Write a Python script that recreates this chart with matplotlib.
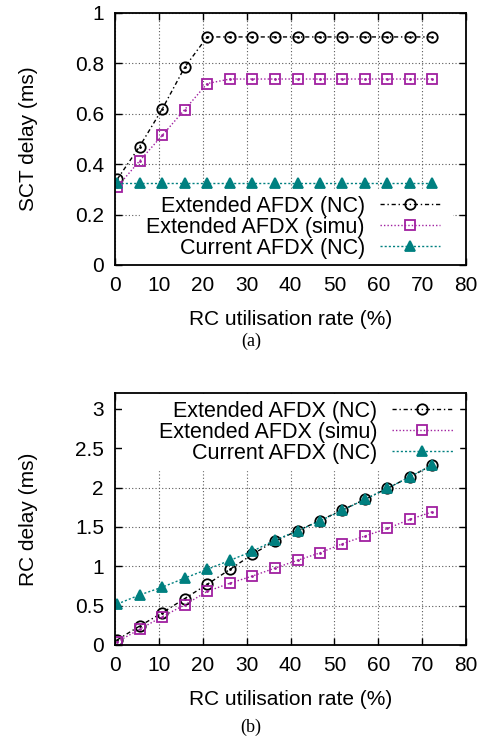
import numpy as np
import matplotlib
matplotlib.use('Agg')
import matplotlib.pyplot as plt
from matplotlib import ticker
from matplotlib.patches import Rectangle

plt.rcParams['font.family'] = ['Liberation Sans', 'DejaVu Sans']
plt.rcParams['font.size'] = 15

# RC utilisation rate (%)
rc_rate = [0.5, 5.6, 10.8, 15.9, 21.0, 26.2, 31.3, 36.4, 41.6, 46.7, 51.8, 57.0, 62.1, 67.2, 72.3]

# (a) SCT delay (ms)
sct_ext_nc = [0.34, 0.47, 0.62, 0.785, 0.905, 0.905, 0.905, 0.905, 0.905, 0.905, 0.905, 0.905, 0.905, 0.905, 0.905]
sct_ext_simu = [0.31, 0.413, 0.515, 0.617, 0.72, 0.738, 0.738, 0.738, 0.738, 0.738, 0.738, 0.738, 0.738, 0.738, 0.738]
sct_cur_nc = [0.326] * 15

# (b) RC delay (ms)
rc_ext_nc = [0.065, 0.24, 0.41, 0.59, 0.77, 0.96, 1.15, 1.32, 1.45, 1.58, 1.715, 1.85, 1.99, 2.135, 2.285]
rc_ext_simu = [0.04, 0.2, 0.36, 0.51, 0.68, 0.785, 0.875, 0.975, 1.075, 1.17, 1.285, 1.385, 1.48, 1.595, 1.69]
rc_cur_nc = [0.52, 0.635, 0.735, 0.85, 0.96, 1.075, 1.19, 1.33, 1.45, 1.575, 1.71, 1.85, 1.99, 2.135, 2.285]

labels = ['Extended AFDX (NC)', 'Extended AFDX (simu)', 'Current AFDX (NC)']
colors = ['black', '#a020a0', '#008080']
markers = ['o', 's', '^']
msizes = [7.5, 6.5, 6.5]
styles = [(0, (3, 2, 1, 2)), (0, (1, 1.5)), (0, (1.5, 1.5))]

fig = plt.figure(figsize=(4.88, 7.38), dpi=100)
W, H = 488, 738
ax1 = fig.add_axes([115 / W, 1 - 265 / H, 351 / W, 252 / H])
ax2 = fig.add_axes([115 / W, 1 - 645 / H, 351 / W, 252 / H])


def draw(ax, series):
    for ys, lab, c, m, ms, ls in zip(series, labels, colors, markers, msizes, styles):
        face = c if m == '^' else 'none'
        ax.plot(rc_rate, ys, color=c, linestyle=ls, linewidth=1, marker=m,
                markersize=ms, markerfacecolor=face, markeredgecolor=c,
                markeredgewidth=1.3, label=lab, zorder=6)
        if m != '^':
            ax.plot(rc_rate, ys, linestyle='none', marker='.', markersize=2,
                    color=c, zorder=6)
    ax.set_xlim(0, 80)
    ax.set_xticks(np.arange(0, 81, 10))
    ax.grid(True, color='0.35', linestyle=(0, (1, 2)), linewidth=0.8)
    ax.tick_params(direction='in', top=True, right=True, length=5, width=1,
                   pad=8, labelsize=15)
    ax.yaxis.set_major_formatter(ticker.FormatStrFormatter('%g'))
    for s in ax.spines.values():
        s.set_linewidth(1.3)
        s.set_zorder(7)
    ax.set_xlabel('RC utilisation rate (%)', fontsize=15)
    ax.xaxis.set_label_coords(0.5, -0.178)


draw(ax1, [sct_ext_nc, sct_ext_simu, sct_cur_nc])
ax1.set_ylim(0, 1)
ax1.set_yticks(np.arange(0, 1.01, 0.2))
ax1.set_ylabel('SCT delay (ms)', fontsize=15)
ax1.yaxis.set_label_coords(-0.22, 0.5)

draw(ax2, [rc_ext_nc, rc_ext_simu, rc_cur_nc])
ax2.set_ylim(0, 3.2)
ax2.set_yticks(np.arange(0, 3.01, 0.5))
ax2.set_ylabel('RC delay (ms)', fontsize=15)
ax2.yaxis.set_label_coords(-0.22, 0.5)

# white key area hiding the grid, as in gnuplot
ax1.add_patch(Rectangle((0.07, 0.02), 0.893, 0.27, transform=ax1.transAxes,
                        facecolor='white', edgecolor='none', zorder=2))
ax2.add_patch(Rectangle((0.02, 0.714), 0.96, 0.266, transform=ax2.transAxes,
                        facecolor='white', edgecolor='none', zorder=2))

leg_kw = dict(markerfirst=False, frameon=True, framealpha=1, facecolor='white',
              edgecolor='white', fancybox=False, borderpad=0.3, borderaxespad=0,
              handlelength=2.8, handletextpad=0.7, labelspacing=0.0,
              fontsize=15.5)
h1, l1 = ax1.get_legend_handles_labels()
ax1.legend(h1, l1, loc='lower right', bbox_to_anchor=(0.945, 0.0), **leg_kw)
h2, l2 = ax2.get_legend_handles_labels()
ax2.legend(h2, l2, loc='upper right', bbox_to_anchor=(0.98, 0.995), **leg_kw)

fig.text(251 / W, 1 - 341 / H, '(a)', ha='center', va='center',
         family=['Liberation Serif', 'DejaVu Serif'], fontsize=13)
fig.text(251 / W, 1 - 727 / H, '(b)', ha='center', va='center',
         family=['Liberation Serif', 'DejaVu Serif'], fontsize=13)

plt.savefig('out.png', dpi=100)
